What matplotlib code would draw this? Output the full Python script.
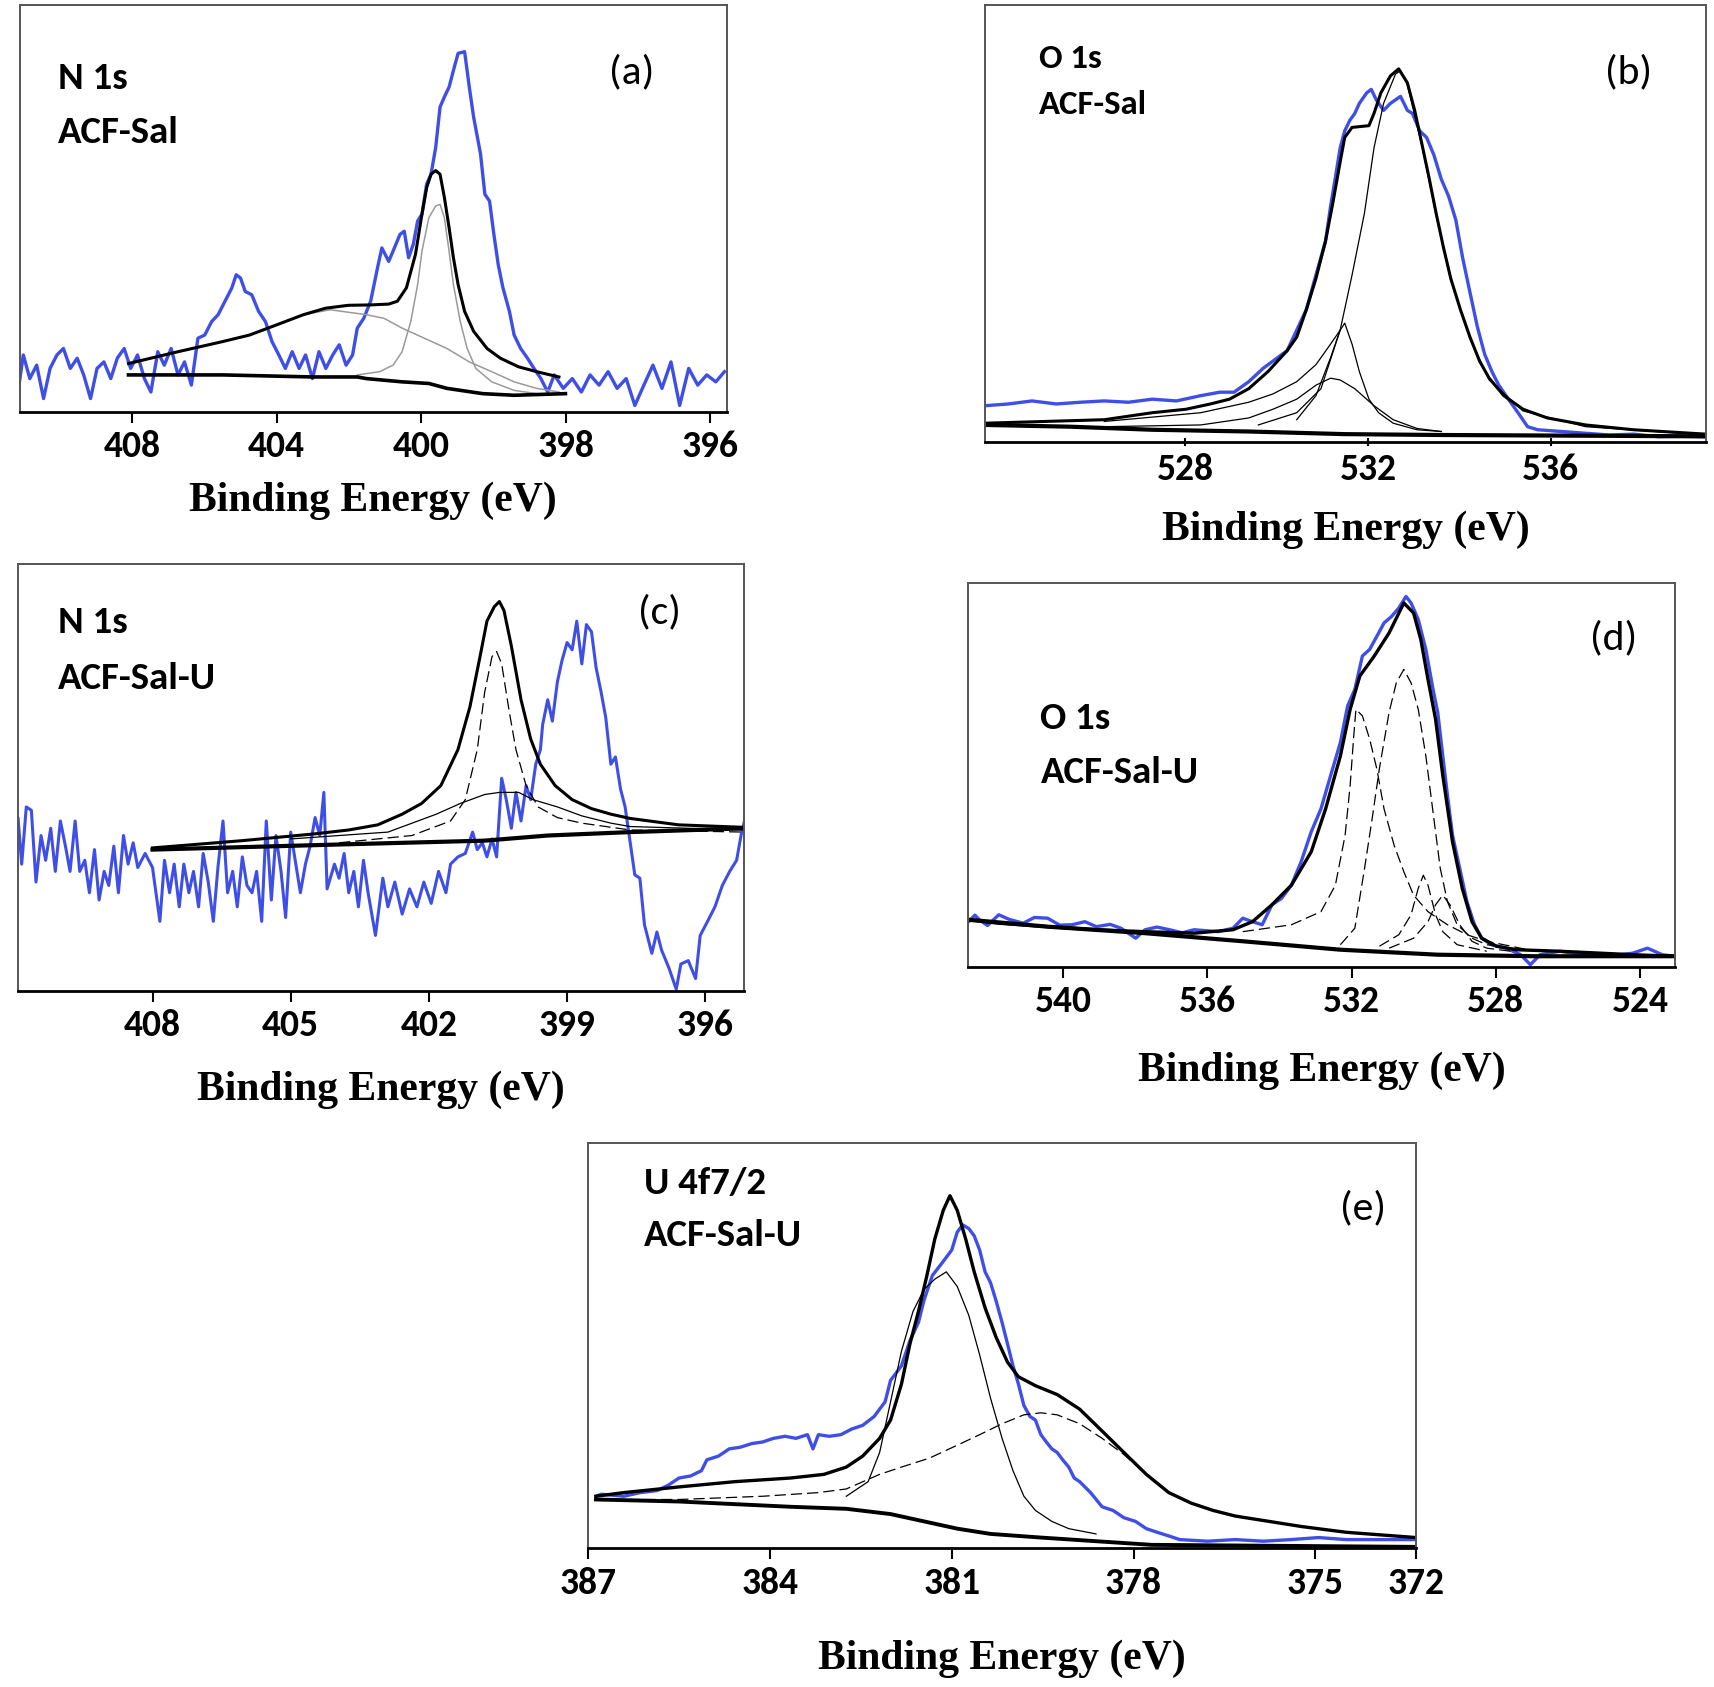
import matplotlib
matplotlib.use('Agg')
import matplotlib.pyplot as plt
import numpy as np

BLUE = '#3f4fe6'
SANS = ['Carlito', 'Liberation Sans Narrow', 'DejaVu Sans']

# ---------------- (a) N 1s, ACF-Sal ----------------
a_ticks = [408, 404, 400, 396, 392]
a_tick_labels = ['408', '404', '400', '398', '396']
a_xlim = (411.1, 391.55)
a_blue = np.array([
    (411.13, 6.6), (411.01, 14.0), (410.83, 8.2), (410.64, 11.5), (410.45, 3.3),
    (410.27, 10.7), (410.08, 14.0), (409.90, 15.6), (409.71, 10.7), (409.52, 13.2),
    (409.34, 9.1), (409.15, 3.3), (408.97, 10.7), (408.78, 12.3), (408.59, 8.2),
    (408.41, 13.2), (408.22, 15.6), (408.04, 10.7), (407.85, 14.0), (407.66, 8.2),
    (407.48, 4.9), (407.29, 14.8), (407.11, 11.5), (406.92, 15.6), (406.73, 9.1),
    (406.55, 12.3), (406.36, 6.6), (406.18, 18.1), (405.99, 18.9), (405.80, 22.2),
    (405.62, 23.9), (405.43, 27.2), (405.24, 30.5), (405.12, 33.7), (405.00, 32.9),
    (404.87, 29.6), (404.69, 28.8), (404.50, 24.7), (404.31, 22.2), (404.13, 17.3),
    (403.94, 14.0), (403.76, 10.7), (403.57, 14.8), (403.38, 10.7), (403.20, 14.0),
    (403.01, 8.2), (402.83, 14.8), (402.64, 10.7), (402.45, 14.0), (402.27, 16.5),
    (402.08, 11.5), (401.90, 14.0), (401.77, 20.6), (401.59, 23.0), (401.40, 27.2),
    (401.21, 35.4), (401.09, 40.3), (400.90, 37.0), (400.78, 39.5), (400.59, 43.6),
    (400.47, 44.4), (400.35, 37.9), (400.22, 41.2), (400.10, 46.9), (399.98, 48.6),
    (399.85, 56.0), (399.73, 58.4), (399.60, 65.0), (399.48, 74.9), (399.36, 77.4),
    (399.23, 79.8), (399.11, 83.9), (398.98, 88.1), (398.80, 88.5), (398.67, 79.8),
    (398.55, 72.4), (398.36, 63.4), (398.24, 53.5), (398.11, 51.8), (397.99, 43.6),
    (397.87, 36.2), (397.74, 30.5), (397.56, 24.7), (397.43, 18.9), (397.25, 15.6),
    (397.06, 13.2), (396.88, 10.7), (396.69, 8.2), (396.50, 4.9), (396.32, 9.1),
    (396.07, 5.8), (395.82, 8.2), (395.57, 4.9), (395.33, 9.1), (395.08, 6.6),
    (394.83, 9.9), (394.58, 5.8), (394.33, 8.2), (394.09, 1.6), (393.84, 6.6),
    (393.59, 11.5), (393.34, 5.8), (393.09, 12.3), (392.85, 1.6), (392.60, 10.7),
    (392.35, 6.6), (392.10, 9.1), (391.85, 7.4), (391.61, 9.9)])
a_envelope = np.array([
    (408.1, 11.9), (406.73, 14.8), (405.49, 17.3), (404.75, 18.9), (404.0, 21.4),
    (403.26, 23.9), (402.64, 25.5), (402.02, 26.2), (401.40, 26.3), (400.90, 26.5),
    (400.66, 27.2), (400.41, 30.5), (400.16, 38.7), (399.98, 48.6), (399.85, 55.1),
    (399.73, 58.4), (399.60, 59.3), (399.48, 58.4), (399.36, 52.7), (399.23, 45.3),
    (399.11, 37.9), (398.98, 31.3), (398.80, 24.7), (398.55, 19.8), (398.18, 15.6),
    (397.81, 13.2), (397.31, 11.1), (396.81, 9.9), (396.19, 8.6)])
a_background = np.array([
    (408.1, 9.1), (405.49, 9.1), (403.01, 8.6), (401.77, 8.6), (401.52, 8.2),
    (400.53, 7.4), (399.79, 7.0), (399.29, 5.8), (398.30, 4.5), (397.43, 4.1),
    (396.01, 4.5)])
a_broad = np.array([
    (408.1, 11.9), (406.73, 14.8), (405.49, 17.3), (404.75, 18.9), (404.0, 21.4),
    (403.26, 23.9), (402.52, 25.1), (401.52, 23.9), (401.03, 23.0), (400.53, 20.6),
    (399.91, 18.1), (399.29, 15.6), (398.67, 12.3), (398.05, 9.9), (397.43, 7.4),
    (396.81, 5.8), (396.19, 4.9)])
a_narrow = np.array([
    (401.77, 9.1), (401.15, 9.9), (400.78, 11.5), (400.53, 14.8), (400.29, 22.2),
    (400.10, 31.3), (399.98, 39.5), (399.79, 47.7), (399.60, 50.6), (399.48, 51.0),
    (399.36, 47.7), (399.23, 39.5), (399.11, 31.3), (398.92, 22.2), (398.73, 15.6),
    (398.49, 10.7), (398.05, 7.4), (397.43, 5.3), (396.81, 4.5)])

# ---------------- (b) O 1s, ACF-Sal ----------------
b_ticks = [528, 532, 536]
b_tick_labels = ['528', '532', '536']
b_xlim = (523.62, 539.39)
b_blue = np.array([
    (523.62, 8.3), (524.13, 8.7), (524.65, 9.4), (525.18, 8.7), (525.71, 9.1),
    (526.23, 9.4), (526.76, 9.1), (527.28, 9.8), (527.81, 9.4), (528.34, 10.6),
    (528.76, 11.4), (529.07, 11.4), (529.39, 13.8), (529.71, 16.9), (530.02, 19.3),
    (530.23, 20.9), (530.44, 25.6), (530.65, 30.3), (530.86, 38.2), (531.07, 46.0),
    (531.18, 53.9), (531.28, 60.2), (531.39, 67.3), (531.49, 71.2), (531.60, 73.6),
    (531.71, 75.2), (531.81, 77.5), (531.97, 79.9), (532.07, 80.7), (532.18, 78.3),
    (532.34, 75.9), (532.49, 77.5), (532.60, 78.3), (532.71, 79.1), (532.86, 75.9),
    (532.97, 75.2), (533.13, 71.2), (533.28, 69.7), (533.44, 65.7), (533.60, 60.2),
    (533.76, 56.3), (533.92, 50.8), (534.07, 42.1), (534.23, 34.2), (534.39, 26.4),
    (534.55, 20.1), (534.71, 16.1), (534.86, 13.0), (535.07, 9.8), (535.28, 6.7),
    (535.49, 3.5), (535.71, 2.8), (536.23, 2.4), (536.76, 2.0), (537.28, 1.6),
    (537.81, 1.8), (538.34, 1.2), (538.86, 1.3), (539.39, 1.2)])
b_envelope = np.array([
    (523.62, 4.3), (526.23, 5.1), (527.28, 6.7), (528.02, 7.5), (528.55, 8.7),
    (528.97, 9.8), (529.39, 12.2), (529.81, 16.1), (530.23, 20.9), (530.44, 24.0),
    (530.65, 30.3), (530.86, 37.4), (531.07, 46.0), (531.23, 54.7), (531.39, 64.1),
    (531.49, 69.7), (531.65, 72.0), (532.02, 72.4), (532.13, 75.2), (532.28, 79.9),
    (532.49, 83.8), (532.67, 85.4), (532.86, 82.2), (533.02, 75.9), (533.18, 68.1),
    (533.34, 60.2), (533.49, 52.3), (533.65, 44.5), (533.81, 37.4), (534.02, 30.3),
    (534.23, 24.0), (534.44, 18.5), (534.65, 14.6), (534.97, 10.6), (535.39, 7.5),
    (535.92, 5.5), (536.76, 3.9), (537.81, 2.8), (539.39, 1.8)])
b_main = np.array([
    (529.6, 3.9), (530.44, 6.7), (530.97, 12.2), (531.39, 25.6), (531.65, 38.2),
    (531.92, 52.3), (532.13, 67.3), (532.34, 77.5), (532.60, 84.2), (532.71, 85.0),
    (532.86, 81.8), (533.18, 67.7), (533.49, 51.9), (533.81, 37.0), (534.23, 23.6),
    (534.65, 14.2), (535.39, 7.1), (536.76, 3.5), (539.39, 1.6)])
b_narrow = np.array([
    (530.44, 5.1), (530.86, 10.6), (531.18, 19.3), (531.39, 25.6), (531.49, 27.2),
    (531.65, 22.4), (531.81, 16.1), (532.02, 9.8), (532.23, 6.7), (532.55, 4.3),
    (533.07, 2.8), (533.60, 2.4)])
b_broad = np.array([
    (526.23, 3.5), (528.34, 3.9), (529.39, 5.5), (529.92, 7.5), (530.44, 9.8),
    (530.86, 13.0), (531.18, 14.6), (531.39, 14.2), (531.71, 12.2), (532.13, 8.3),
    (532.55, 5.1), (533.07, 3.1), (533.60, 2.4)])
b_sum_small = np.array([
    (526.23, 4.7), (528.34, 6.7), (529.39, 9.1), (529.92, 11.0), (530.44, 13.8),
    (530.86, 17.7), (531.18, 22.4), (531.39, 25.6)])
b_background = np.array([
    (523.62, 3.9), (525.49, 3.5), (527.28, 2.8), (529.39, 2.4), (531.49, 1.8),
    (533.6, 1.6), (539.39, 1.3)])

# ---------------- (c) N 1s, ACF-Sal-U ----------------
c_ticks = [408, 405, 402, 399, 396]
c_tick_labels = ['408', '405', '402', '399', '396']
c_xlim = (410.92, 395.16)
c_blue = np.array([
    (411.0, 39.8), (410.92, 40.6), (410.84, 29.7), (410.74, 43.1), (410.63, 42.3),
    (410.53, 25.5), (410.42, 36.4), (410.32, 30.6), (410.21, 38.1), (410.11, 28.0),
    (410.0, 39.8), (409.89, 33.9), (409.79, 28.0), (409.68, 39.8), (409.58, 28.0),
    (409.47, 30.6), (409.37, 23.0), (409.26, 33.1), (409.16, 21.3), (409.05, 28.0),
    (408.95, 24.7), (408.84, 33.9), (408.74, 23.0), (408.63, 36.4), (408.53, 29.7),
    (408.42, 34.7), (408.32, 28.9), (408.16, 32.2), (408.0, 28.9), (407.84, 16.3),
    (407.74, 30.6), (407.63, 23.0), (407.53, 29.7), (407.42, 19.7), (407.32, 29.7),
    (407.21, 23.0), (407.11, 28.0), (407.0, 19.7), (406.9, 32.2), (406.79, 25.5),
    (406.68, 16.3), (406.58, 28.9), (406.47, 39.8), (406.37, 23.0), (406.26, 28.0),
    (406.16, 19.7), (406.05, 31.4), (405.95, 24.7), (405.84, 23.0), (405.74, 28.0),
    (405.63, 16.3), (405.53, 39.8), (405.42, 21.3), (405.32, 36.4), (405.21, 28.0),
    (405.11, 17.2), (405.0, 37.2), (404.89, 29.7), (404.79, 23.0), (404.68, 29.7),
    (404.58, 33.9), (404.47, 40.6), (404.37, 36.4), (404.28, 46.5), (404.21, 23.9),
    (404.05, 29.7), (403.95, 26.4), (403.84, 32.2), (403.74, 23.0), (403.63, 28.0),
    (403.53, 19.7), (403.42, 30.6), (403.32, 23.0), (403.16, 13.0), (403.0, 26.4),
    (402.89, 19.7), (402.74, 25.5), (402.58, 18.0), (402.42, 23.9), (402.26, 19.7),
    (402.11, 25.5), (401.95, 20.5), (401.79, 28.0), (401.63, 23.0), (401.53, 29.7),
    (401.37, 31.4), (401.21, 32.2), (401.05, 37.2), (400.95, 33.1), (400.84, 34.7),
    (400.74, 31.4), (400.63, 35.6), (400.53, 31.4), (400.42, 49.8), (400.32, 44.8),
    (400.21, 38.1), (400.11, 46.5), (400.0, 39.8), (399.89, 48.1), (399.79, 44.8),
    (399.68, 53.1), (399.58, 56.5), (399.53, 62.4), (399.42, 68.2), (399.32, 63.2),
    (399.21, 72.4), (399.11, 77.4), (399.0, 81.6), (398.89, 79.9), (398.79, 86.6),
    (398.68, 76.6), (398.58, 85.8), (398.47, 84.1), (398.37, 75.7), (398.26, 69.9),
    (398.16, 64.0), (398.05, 53.1), (397.95, 54.8), (397.84, 47.3), (397.74, 43.1),
    (397.63, 34.7), (397.53, 27.2), (397.42, 26.4), (397.32, 15.5), (397.16, 8.8),
    (397.05, 13.8), (396.95, 9.6), (396.79, 5.4), (396.63, 0.4), (396.53, 6.3),
    (396.37, 7.1), (396.21, 2.9), (396.11, 13.0), (395.95, 16.3), (395.79, 19.7),
    (395.63, 24.7), (395.47, 28.0), (395.32, 30.6), (395.21, 37.2), (395.11, 41.4)])
c_envelope = np.array([
    (408.0, 33.5), (406.05, 35.2), (404.47, 36.8), (403.74, 37.7), (403.11, 38.9),
    (402.58, 41.4), (402.16, 43.9), (401.74, 48.1), (401.37, 56.5), (401.11, 66.5),
    (400.89, 78.3), (400.74, 86.6), (400.58, 90.0), (400.47, 91.2), (400.37, 89.1),
    (400.21, 80.8), (400.0, 68.2), (399.79, 59.0), (399.58, 53.1), (399.26, 48.1),
    (398.89, 44.8), (398.47, 42.7), (398.05, 41.4), (397.63, 40.4), (396.58, 38.9),
    (395.11, 38.3)])
c_background = np.array([
    (408.0, 33.1), (403.95, 34.3), (400.79, 35.2), (399.42, 36.4), (397.63, 37.2),
    (395.11, 38.1)])
c_narrow = np.array([
    (403.95, 34.7), (402.37, 36.4), (401.53, 39.8), (401.21, 44.8), (400.95, 56.5),
    (400.79, 69.9), (400.63, 78.3), (400.53, 79.5), (400.42, 76.6), (400.26, 65.7),
    (400.11, 56.5), (399.89, 48.1), (399.63, 43.1), (399.21, 40.6), (398.68, 39.3),
    (397.63, 37.7), (395.11, 37.2)])
c_broad = np.array([
    (405.0, 35.6), (403.95, 36.4), (402.89, 37.2), (401.84, 41.4), (401.32, 43.9),
    (400.79, 46.0), (400.47, 46.5), (400.05, 46.5), (399.74, 44.8), (399.21, 43.1),
    (398.68, 41.0), (398.05, 39.3), (397.63, 38.5), (395.11, 37.7)])

# ---------------- (d) O 1s, ACF-Sal-U ----------------
d_ticks = [540, 536, 532, 528, 524]
d_tick_labels = ['540', '536', '532', '528', '524']
d_xlim = (542.63, 523.04)
d_blue = np.array([
    (542.63, 11.8), (542.45, 13.5), (542.33, 12.3), (542.1, 10.8), (541.79, 13.6),
    (541.5, 12.4), (541.11, 11.4), (540.8, 12.9), (540.43, 12.7), (540.1, 10.9),
    (539.76, 11.0), (539.4, 11.8), (539.08, 10.5), (538.7, 11.1), (538.40, 10.1),
    (537.99, 7.5), (537.73, 9.7), (537.4, 10.4), (537.05, 9.7), (536.7, 8.9),
    (536.37, 9.7), (535.70, 9.2), (535.29, 10.1), (535.02, 12.7), (534.75, 11.8),
    (534.48, 11.0), (534.21, 16.2), (533.94, 17.9), (533.67, 21.3), (533.40, 27.4),
    (533.12, 35.2), (532.85, 41.2), (532.58, 49.9), (532.31, 58.5), (532.11, 68.0),
    (531.91, 72.3), (531.70, 81.0), (531.50, 82.7), (531.30, 86.1), (531.10, 89.6),
    (530.89, 91.3), (530.69, 93.5), (530.49, 96.5), (530.35, 94.8), (530.15, 90.5),
    (529.94, 82.7), (529.74, 72.3), (529.61, 66.3), (529.47, 55.0), (529.34, 44.7),
    (529.20, 34.3), (529.0, 25.7), (528.80, 17.0), (528.59, 11.0), (528.39, 7.5),
    (528.12, 5.8), (527.71, 4.9), (527.31, 3.2), (527.04, 0.6), (526.77, 3.2),
    (526.22, 4.1), (525.55, 3.2), (524.87, 2.8), (524.20, 3.6), (523.79, 4.9),
    (523.38, 3.2), (523.04, 2.8)])
d_envelope = np.array([
    (542.63, 12.3), (541.79, 11.4), (540.43, 10.5), (539.08, 9.7), (537.73, 9.2),
    (536.37, 8.8), (535.29, 9.7), (534.75, 11.8), (534.21, 16.2), (533.67, 21.3),
    (533.12, 30.0), (532.72, 41.2), (532.31, 55.0), (532.04, 67.1), (531.77, 75.8),
    (531.37, 81.0), (530.96, 87.0), (530.55, 94.8), (530.28, 92.2), (530.08, 85.3),
    (529.88, 74.9), (529.67, 64.5), (529.47, 49.9), (529.20, 32.6), (528.93, 20.5),
    (528.66, 11.8), (528.39, 7.5), (527.98, 5.4), (527.44, 4.5), (526.22, 4.1),
    (524.20, 3.2), (523.04, 2.8)])
d_background = np.array([
    (542.63, 12.3), (540.43, 10.5), (537.73, 8.8), (535.02, 6.7), (532.31, 4.5),
    (529.61, 3.2), (526.90, 2.8), (523.04, 2.8)])
d_comp1 = np.array([
    (535.02, 9.2), (533.67, 11.0), (532.85, 14.4), (532.45, 21.3), (532.18, 34.3),
    (532.04, 47.3), (531.94, 60.2), (531.88, 67.1), (531.70, 65.4), (531.50, 59.4),
    (531.30, 51.6), (531.10, 41.2), (530.82, 31.7), (530.55, 24.8), (530.28, 18.7),
    (529.88, 14.4), (529.34, 11.0), (528.80, 8.4), (528.25, 6.7), (526.90, 4.1)])
d_comp2 = np.array([
    (532.31, 5.8), (531.91, 10.1), (531.64, 25.7), (531.43, 38.6), (531.23, 51.6),
    (530.96, 66.3), (530.76, 74.0), (530.55, 77.5), (530.35, 74.0), (530.15, 67.1),
    (529.94, 55.0), (529.74, 40.3), (529.54, 25.7), (529.34, 17.0), (529.07, 11.0),
    (528.66, 7.5), (528.25, 5.8), (526.90, 4.1)])
d_comp3 = np.array([
    (531.23, 5.4), (530.69, 8.4), (530.35, 13.6), (530.15, 20.5), (530.01, 23.9),
    (529.88, 21.3), (529.67, 13.6), (529.47, 9.2), (529.07, 5.8), (528.25, 4.1)])
d_comp4 = np.array([
    (530.96, 4.9), (530.28, 7.5), (529.88, 11.8), (529.67, 16.2), (529.47, 18.7),
    (529.27, 16.2), (529.0, 11.0), (528.66, 6.7), (528.25, 4.9), (527.58, 4.1)])

# ---------------- (e) U 4f7/2, ACF-Sal-U ----------------
e_ticks = [387, 384, 381, 378, 375, 373.34]
e_tick_labels = ['387', '384', '381', '378', '375', '372']
e_xlim = (386.98, 373.34)
e_blue = np.array([
    (386.87, 12.9), (386.78, 13.4), (386.41, 12.9), (386.14, 13.8), (385.86, 14.3),
    (385.68, 15.6), (385.50, 17.4), (385.31, 17.9), (385.13, 19.2), (385.04, 21.9),
    (384.85, 22.8), (384.67, 24.6), (384.49, 25.0), (384.30, 25.9), (384.12, 26.3),
    (383.94, 27.2), (383.75, 27.7), (383.57, 27.2), (383.38, 28.1), (383.29, 24.6),
    (383.20, 28.1), (383.02, 27.7), (382.83, 28.1), (382.65, 29.5), (382.47, 30.4),
    (382.28, 32.6), (382.10, 36.2), (382.01, 41.5), (381.83, 45.1), (381.69, 51.3),
    (381.55, 55.8), (381.46, 61.2), (381.32, 67.4), (381.18, 70.1), (381.0, 73.7),
    (380.91, 78.1), (380.82, 79.9), (380.72, 79.0), (380.63, 77.2), (380.54, 73.7),
    (380.45, 68.3), (380.36, 65.6), (380.27, 61.2), (380.17, 55.8), (380.08, 50.5),
    (379.99, 45.1), (379.90, 40.6), (379.81, 35.3), (379.71, 32.6), (379.62, 31.7),
    (379.53, 28.1), (379.44, 26.3), (379.35, 24.6), (379.26, 23.7), (379.17, 21.9),
    (379.07, 20.1), (378.98, 17.4), (378.89, 16.5), (378.71, 13.8), (378.52, 10.3),
    (378.34, 9.4), (378.16, 7.6), (377.97, 6.7), (377.79, 4.9), (377.61, 4.0),
    (377.42, 3.1), (377.24, 2.2), (376.78, 1.8), (376.32, 2.2), (375.86, 1.8),
    (375.40, 2.2), (374.95, 2.7), (374.49, 2.2), (374.03, 2.2), (373.34, 2.2)])
e_envelope = np.array([
    (386.87, 12.9), (386.41, 13.8), (385.50, 15.2), (384.58, 16.5), (383.66, 17.4),
    (383.11, 18.3), (382.74, 20.1), (382.47, 22.8), (382.19, 27.2), (382.01, 31.7),
    (381.83, 40.6), (381.69, 50.5), (381.55, 58.5), (381.41, 67.4), (381.28, 76.4),
    (381.14, 83.5), (381.03, 87.1), (380.91, 83.5), (380.77, 76.4), (380.63, 68.3),
    (380.45, 59.4), (380.27, 52.2), (380.08, 46.0), (379.90, 42.4), (379.62, 40.2),
    (379.26, 38.0), (378.89, 34.4), (378.52, 29.0), (378.16, 23.7), (377.79, 18.3),
    (377.42, 13.8), (377.05, 11.2), (376.69, 9.4), (376.32, 8.0), (375.77, 6.7),
    (375.22, 5.4), (374.49, 4.0), (373.34, 2.7)])
e_background = np.array([
    (386.87, 12.1), (385.50, 11.6), (383.66, 10.3), (382.74, 9.8), (382.01, 8.5),
    (381.46, 6.7), (380.91, 4.9), (380.36, 3.6), (379.53, 2.7), (378.62, 1.8),
    (377.70, 0.9), (373.34, 0.4)])
e_narrow = np.array([
    (382.74, 12.9), (382.38, 16.5), (382.19, 23.7), (382.01, 36.2), (381.83, 48.7),
    (381.64, 58.5), (381.46, 63.9), (381.28, 66.5), (381.09, 68.3), (380.91, 64.7),
    (380.72, 57.6), (380.54, 47.8), (380.36, 37.1), (380.17, 27.2), (379.99, 19.2),
    (379.81, 12.9), (379.62, 9.4), (379.35, 6.7), (379.07, 4.9), (378.62, 3.6)])
e_broad = np.array([
    (386.87, 12.1), (385.50, 12.1), (384.12, 12.9), (383.20, 13.8), (382.74, 14.7),
    (382.19, 18.3), (381.83, 20.1), (381.37, 22.3), (380.91, 25.5), (380.54, 28.1),
    (380.17, 30.8), (379.81, 33.0), (379.53, 33.5), (379.26, 33.0), (378.89, 30.8),
    (378.52, 27.2), (378.16, 23.2), (377.79, 18.3), (377.42, 13.8), (377.05, 11.2),
    (376.69, 9.4), (376.32, 8.0), (375.77, 6.7), (374.49, 4.0), (373.34, 2.7)])

DASH = (0, (9, 4))


def style_axis(ax, xlim, ticks, tick_labels, label_y):
    ax.set_xlim(*xlim)
    ax.set_ylim(0, 100)
    ax.set_yticks([])
    ax.set_xticks(ticks)
    ax.set_xticklabels(tick_labels, fontfamily=SANS, fontweight='bold',
                       fontsize=27)
    ax.tick_params(axis='x', direction='out', length=8, width=1.5, pad=5)
    for side in ['top', 'left', 'right']:
        ax.spines[side].set_color('#555555')
        ax.spines[side].set_linewidth(1.4)
    ax.spines['bottom'].set_color('black')
    ax.spines['bottom'].set_linewidth(2.0)
    ax.set_xlabel('Binding Energy (eV)', fontfamily='Liberation Serif',
                  fontweight='bold', fontsize=30)
    ax.xaxis.set_label_coords(0.5, label_y)


def line(ax, arr, color='black', lw=0.9, ls='-'):
    ax.plot(arr[:, 0], arr[:, 1], color=color, lw=lw, ls=ls)


def panel_text(ax, line1, line2, tag, x, y1, y2, tx, ty, size=28):
    ax.text(x, y1, line1, transform=ax.transAxes, fontsize=size,
            fontfamily=SANS, fontweight='bold', va='center', ha='left')
    ax.text(x, y2, line2, transform=ax.transAxes, fontsize=size,
            fontfamily=SANS, fontweight='bold', va='center', ha='left')
    ax.text(tx, ty, tag, transform=ax.transAxes, fontsize=30,
            fontfamily=SANS, va='center', ha='center')


fig = plt.figure(figsize=(17.15, 16.87), dpi=100)

# (a)
ax = fig.add_axes([0.0117, 0.7558, 0.412, 0.2413])
ax.plot(a_blue[:, 0], a_blue[:, 1], color=BLUE, lw=2.4)
line(ax, a_broad, color='#9a9a9a', lw=1.1)
line(ax, a_narrow, color='#9a9a9a', lw=1.1)
line(ax, a_background, lw=2.6)
line(ax, a_envelope, lw=2.2)
style_axis(ax, a_xlim, a_ticks, a_tick_labels, -0.17)
panel_text(ax, 'N 1s', 'ACF-Sal', '(a)', 0.054, 0.819, 0.687, 0.865, 0.835)

# (b)
ax = fig.add_axes([0.5743, 0.738, 0.4204, 0.259])
ax.plot(b_blue[:, 0], b_blue[:, 1], color=BLUE, lw=2.4)
line(ax, b_broad)
line(ax, b_narrow)
line(ax, b_sum_small)
line(ax, b_main)
line(ax, b_background, lw=3.0)
line(ax, b_envelope, lw=2.2)
style_axis(ax, b_xlim, b_ticks, b_tick_labels, -0.158)
ax.tick_params(axis='x', direction='inout', length=6)
panel_text(ax, 'O 1s', 'ACF-Sal', '(b)', 0.075, 0.878, 0.772, 0.893, 0.846,
           size=25)

# (c)
ax = fig.add_axes([0.0105, 0.4126, 0.4233, 0.2531])
ax.plot(c_blue[:, 0], c_blue[:, 1], color=BLUE, lw=2.2)
line(ax, c_broad)
line(ax, c_narrow, ls=DASH)
line(ax, c_background, lw=3.0)
line(ax, c_envelope, lw=2.2)
style_axis(ax, c_xlim, c_ticks, c_tick_labels, -0.187)
panel_text(ax, 'N 1s', 'ACF-Sal-U', '(c)', 0.055, 0.862, 0.732, 0.883, 0.887)

# (d)
ax = fig.add_axes([0.5647, 0.4268, 0.4117, 0.2276])
ax.plot(d_blue[:, 0], d_blue[:, 1], color=BLUE, lw=2.4)
line(ax, d_comp1, ls=DASH)
line(ax, d_comp2, ls=DASH)
line(ax, d_comp3, ls=DASH)
line(ax, d_comp4, ls=DASH)
line(ax, d_background, lw=3.0)
line(ax, d_envelope, lw=2.4)
style_axis(ax, d_xlim, d_ticks, d_tick_labels, -0.221)
panel_text(ax, 'O 1s', 'ACF-Sal-U', '(d)', 0.102, 0.646, 0.507, 0.914, 0.857)

# (e)
ax = fig.add_axes([0.3429, 0.0821, 0.4828, 0.2401])
ax.plot(e_blue[:, 0], e_blue[:, 1], color=BLUE, lw=2.4)
line(ax, e_narrow)
line(ax, e_broad, ls=DASH)
line(ax, e_background, lw=2.8)
line(ax, e_envelope, lw=2.4)
style_axis(ax, e_xlim, e_ticks, e_tick_labels, -0.225)
panel_text(ax, 'U 4f7/2', 'ACF-Sal-U', '(e)', 0.068, 0.902, 0.772, 0.936, 0.839)

fig.savefig('out.png', dpi=100)
